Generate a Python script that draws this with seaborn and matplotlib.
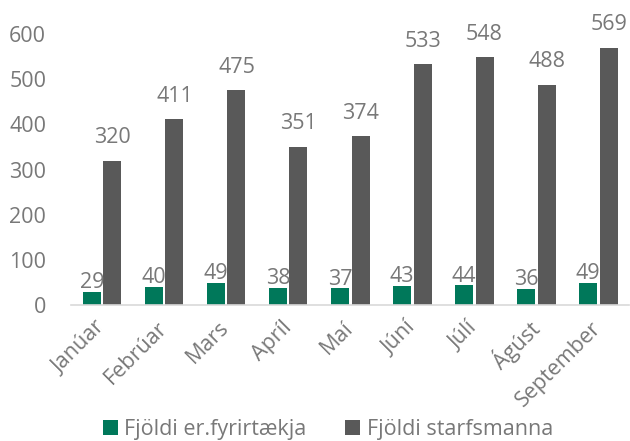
import matplotlib
matplotlib.use("Agg")
import matplotlib.pyplot as plt
import seaborn as sns
import pandas as pd

months = ["Janúar", "Febrúar", "Mars", "Apríl", "Maí", "Júní", "Júlí", "Ágúst", "September"]
companies = [29, 40, 49, 38, 37, 43, 44, 36, 49]
employees = [320, 411, 475, 351, 374, 533, 548, 488, 569]
series_names = ["Fjöldi er.fyrirtækja", "Fjöldi starfsmanna"]
colors = ["#00785a", "#595959"]

df = pd.DataFrame({
    "month": months * 2,
    "value": companies + employees,
    "series": [series_names[0]] * len(months) + [series_names[1]] * len(months),
})

sns.set_style("white")
plt.rcParams["font.family"] = ["Open Sans", "DejaVu Sans"]
text_color = "#787878"

fig = plt.figure(figsize=(6.3, 4.41), dpi=100)
ax = fig.add_axes([0.113, 0.308, 0.886, 0.615])

sns.barplot(data=df, x="month", y="value", hue="series", palette=colors,
            width=0.66, gap=0.12, linewidth=0, saturation=1, ax=ax, legend=True)

# green labels sit almost on the bar, grey ones a bit higher
for container, pad in zip(ax.containers, [-1, 9]):
    ax.bar_label(container, fontsize=15.5, color=text_color, padding=pad, clip_on=False)

ax.set_ylim(0, 600)
ax.set_yticks([0, 100, 200, 300, 400, 500, 600])
ax.set_xlabel("")
ax.set_ylabel("")
ax.tick_params(axis="both", labelsize=15.5, colors=text_color, length=0)
ax.tick_params(axis="y", pad=18)
ax.tick_params(axis="x", pad=14)
plt.setp(ax.get_xticklabels(), rotation=45, ha="right", va="center", rotation_mode="anchor")

for side in ["top", "right", "left"]:
    ax.spines[side].set_visible(False)
ax.spines["bottom"].set_color("#d9d9d9")
ax.spines["bottom"].set_linewidth(1.2)

ax.legend(loc="center", bbox_to_anchor=(0.46, -0.46), ncol=2, frameon=False,
          fontsize=15.5, labelcolor=text_color, handlelength=0.7, handleheight=0.7,
          handletextpad=0.3, columnspacing=1.8)

fig.savefig("out.png", dpi=100)
